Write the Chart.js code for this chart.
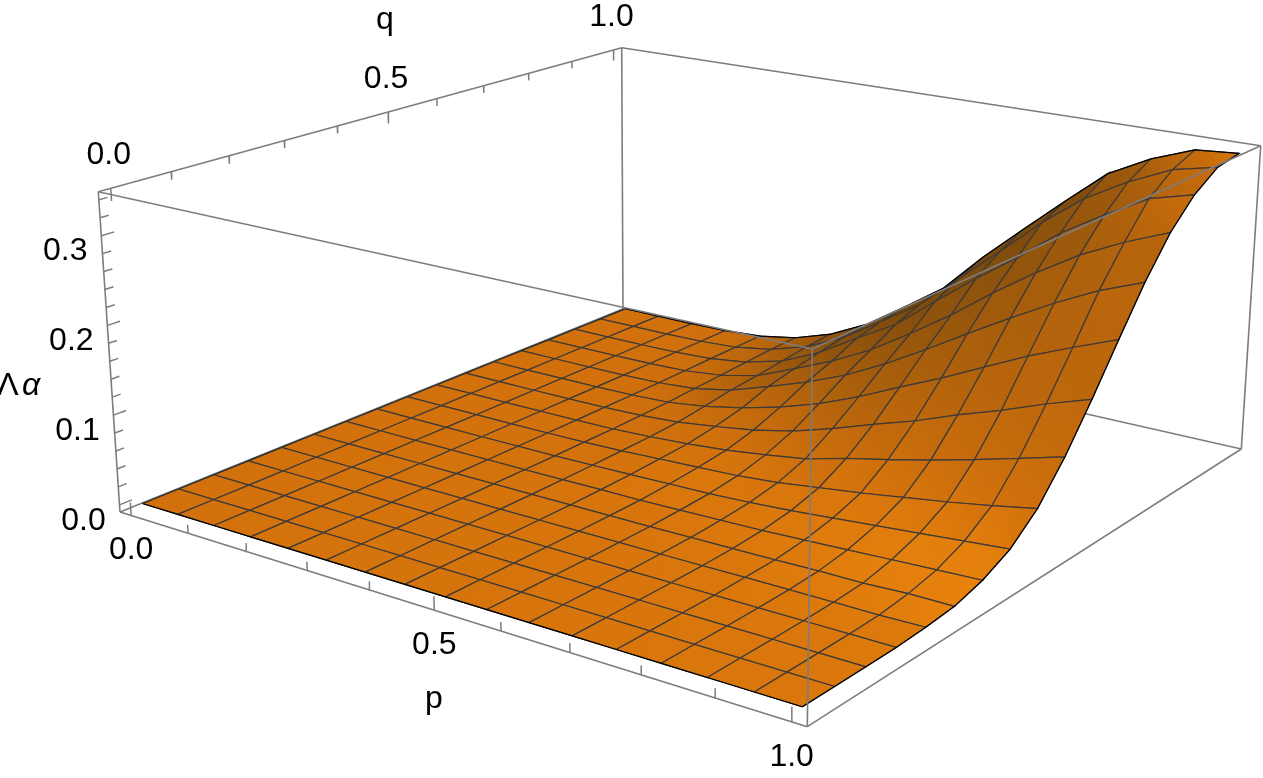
<!DOCTYPE html>
<html>
<head>
<meta charset="utf-8">
<title>Surface</title>
<script src="https://cdn.jsdelivr.net/npm/chart.js@4"></script>
<style>
  html, body { margin: 0; background: #fff; overflow: hidden; }
  canvas { display: block; }
</style>
</head>
<body>
<canvas id="surface" width="1263" height="778"></canvas>
<script>
// mesh positions
const pGrid = [0, 0.0625, 0.125, 0.1875, 0.25, 0.3125, 0.375, 0.4375, 0.5, 0.5625, 0.625, 0.6875, 0.75, 0.8125, 0.875, 0.9375, 1];
const qGrid = [0, 0.0625, 0.125, 0.1875, 0.25, 0.3125, 0.375, 0.4375, 0.5, 0.5625, 0.625, 0.6875, 0.75, 0.8125, 0.875, 0.9375, 1];

// surface height, one row per p
const zRows = [
  [0, 0, 0, 0, 0, 0, 0, 0, 0, 0, 0, 0, 0, 0, 0, 0, 0],
  [0, 0, 0, 0, 0, 0, 0, 0, 0, 0, 0, 0, 0, 0, 0, 0, 0],
  [0, 0, 0, 0, 0, 0, 0, 0, 0, 0, 0, 0.0001, 0.0001, 0.0001, 0.0001, 0.0001, 0.0001],
  [0, 0, 0, 0, 0, 0, 0, 0, 0.0001, 0.0001, 0.0002, 0.0003, 0.0004, 0.0006, 0.0008, 0.0009, 0.001],
  [0, 0, 0, 0, 0, 0, 0.0001, 0.0002, 0.0003, 0.0005, 0.0008, 0.001, 0.0015, 0.002, 0.003, 0.0035, 0.004],
  [0, 0, 0, 0, 0, 0.0001, 0.0002, 0.0004, 0.0008, 0.001, 0.002, 0.003, 0.005, 0.007, 0.009, 0.011, 0.012],
  [0, 0, 0, 0, 0, 0.0001, 0.0005, 0.001, 0.002, 0.003, 0.005, 0.009, 0.014, 0.017, 0.021, 0.025, 0.027],
  [0, 0, 0, 0, 0.0001, 0.0002, 0.001, 0.002, 0.004, 0.006, 0.011, 0.018, 0.029, 0.036, 0.042, 0.047, 0.05],
  [0, 0, 0, 0, 0.0001, 0.0004, 0.001, 0.003, 0.006, 0.01, 0.018, 0.03, 0.045, 0.056, 0.07, 0.077, 0.082],
  [0, 0, 0, 0, 0.0002, 0.0006, 0.002, 0.004, 0.008, 0.016, 0.028, 0.045, 0.064, 0.08, 0.097, 0.108, 0.115],
  [0, 0, 0, 0, 0.0003, 0.001, 0.003, 0.006, 0.012, 0.023, 0.042, 0.064, 0.088, 0.11, 0.135, 0.15, 0.163],
  [0, 0, 0, 0.0001, 0.0005, 0.0015, 0.004, 0.009, 0.018, 0.035, 0.058, 0.086, 0.115, 0.142, 0.172, 0.192, 0.207],
  [0, 0, 0, 0.0001, 0.001, 0.002, 0.006, 0.013, 0.024, 0.045, 0.073, 0.107, 0.144, 0.178, 0.207, 0.236, 0.25],
  [0, 0, 0, 0.0002, 0.001, 0.003, 0.008, 0.017, 0.031, 0.056, 0.091, 0.13, 0.172, 0.211, 0.245, 0.274, 0.292],
  [0, 0, 0, 0.0002, 0.001, 0.003, 0.01, 0.021, 0.038, 0.068, 0.107, 0.153, 0.199, 0.241, 0.275, 0.302, 0.318],
  [0, 0, 0, 0.0003, 0.001, 0.005, 0.012, 0.025, 0.046, 0.081, 0.125, 0.173, 0.223, 0.265, 0.303, 0.325, 0.337],
  [0, 0, 0, 0.0003, 0.002, 0.005, 0.014, 0.029, 0.055, 0.094, 0.141, 0.192, 0.242, 0.285, 0.316, 0.336, 0.341]
];

// ticks
const pTicks = [0, 0.1, 0.2, 0.3, 0.4, 0.5, 0.6, 0.7, 0.8, 0.9, 1];
const qTicks = [0, 0.1, 0.2, 0.3, 0.4, 0.5, 0.6, 0.7, 0.8, 0.9, 1];
const zTicks = [0, 0.02, 0.04, 0.06, 0.08, 0.1, 0.12, 0.14, 0.16, 0.18, 0.2, 0.22, 0.24, 0.26, 0.28, 0.3, 0.32, 0.34];
const pTickLabels = ["0.0", "0.5", "1.0"];
const qTickLabels = ["0.0", "0.5", "1.0"];
const zTickLabels = ["0.0", "0.1", "0.2", "0.3"];

// plot range of the box
const pqMin = -0.02, pqMax = 1.02, zMin = -0.008, zMax = 0.349;

// box corners on the page: p0q0, p1q0, p1q1, p0q1
const floorCorners = [[120, 512], [807.3, 726.7], [1241.3, 449], [623, 309]];
const roofCorners = [[98.3, 191.7], [812.3, 349], [1260.7, 145.7], [621.7, 47.7]];

function quadMap(c) {
  const [[x0, y0], [x1, y1], [x2, y2], [x3, y3]] = c;
  const dx1 = x1 - x2, dx2 = x3 - x2, sx = x0 - x1 + x2 - x3;
  const dy1 = y1 - y2, dy2 = y3 - y2, sy = y0 - y1 + y2 - y3;
  const den = dx1 * dy2 - dx2 * dy1;
  const g = (sx * dy2 - dx2 * sy) / den, h = (dx1 * sy - sx * dy1) / den;
  const a = x1 - x0 + g * x1, b = x3 - x0 + h * x3;
  const d = y1 - y0 + g * y1, e = y3 - y0 + h * y3;
  return (u, v) => {
    const w = g * u + h * v + 1;
    return [(a * u + b * v + x0) / w, (d * u + e * v + y0) / w];
  };
}
const floorMap = quadMap(floorCorners);
const roofMap = quadMap(roofCorners);

function project(p, q, z) {
  const u = (p - pqMin) / (pqMax - pqMin);
  const v = (q - pqMin) / (pqMax - pqMin);
  const w = (z - zMin) / (zMax - zMin);
  const f = floorMap(u, v), r = roofMap(u, v);
  return { x: f[0] + (r[0] - f[0]) * w, y: f[1] + (r[1] - f[1]) * w };
}

// lighting, from the slope at a mesh vertex
function vertexColor(i, j) {
  const i0 = Math.max(i - 1, 0), i1 = Math.min(i + 1, 16);
  const j0 = Math.max(j - 1, 0), j1 = Math.min(j + 1, 16);
  const sp = (zRows[i1][j] - zRows[i0][j]) / (pGrid[i1] - pGrid[i0]);
  const sq = (zRows[i][j1] - zRows[i][j0]) / (qGrid[j1] - qGrid[j0]);
  const nx = -sp * 2.5, ny = -sq * 2.5, len = Math.hypot(nx, ny, 1);
  const dot = (nx * 0.45 + ny * -0.42 + 0.7) / len;
  const lit = (0.454 + 0.78 * dot) * (1 + 0.04 * pGrid[i]);
  const red = Math.max(Math.min(210 * lit, 232), 122);
  const green = red > 210 ? 113 + (red - 210) * 0.8 : 0.45 * red + 18.5;
  return `rgb(${red.toFixed(0)},${green.toFixed(0)},12)`;
}

const datasets = [];

function addLine(points, color, width) {
  datasets.push({ data: points, borderColor: color, borderWidth: width, pointRadius: 0, showLine: true, fill: false, tension: 0 });
}

const boxColor = "#7d7d7d";
function boxEdge(a, b) {
  addLine([project(a[0], a[1], a[2]), project(b[0], b[1], b[2])], boxColor, 1.6);
}

// back of the box
boxEdge([pqMin, pqMin, zMin], [pqMin, pqMin, zMax]);
boxEdge([pqMin, pqMin, zMax], [pqMin, pqMax, zMax]);
boxEdge([pqMin, pqMax, zMax], [pqMin, pqMax, zMin]);
boxEdge([pqMin, pqMax, zMax], [pqMax, pqMax, zMax]);
boxEdge([pqMin, pqMin, zMin], [pqMin, pqMax, zMin]);
boxEdge([pqMin, pqMax, zMin], [pqMax, pqMax, zMin]);
boxEdge([pqMax, pqMax, zMin], [pqMax, pqMax, zMax]);

// ticks
pTicks.forEach(t => {
  const len = (t === 0 || t === 0.5 || t === 1) ? 0.04 : 0.026;
  const dw = len * (zMax - zMin);
  addLine([project(t, pqMin, zMin), project(t, pqMin, zMin + dw)], boxColor, 1.5);
});
qTicks.forEach(t => {
  const len = (t === 0 || t === 0.5 || t === 1) ? 0.04 : 0.026;
  const dw = len * (zMax - zMin);
  addLine([project(pqMin, t, zMax), project(pqMin, t, zMax - dw)], boxColor, 1.5);
});
zTicks.forEach((t, n) => {
  const dv = (n % 5 === 0) ? 0.021 : 0.014;
  addLine([project(pqMin, pqMin, t), project(pqMin, pqMin + dv, t)], boxColor, 1.5);
});

// surface, back to front
for (let j = 15; j >= 0; j--) {
  for (let i = 0; i < 16; i++) {
    const corners = [[i, j], [i + 1, j], [i + 1, j + 1], [i, j + 1], [i, j]];
    datasets.push({
      data: corners.map(c => project(pGrid[c[0]], qGrid[c[1]], zRows[c[0]][c[1]])),
      borderColor: "#3f3a36",
      borderWidth: 1.2,
      pointRadius: 0,
      showLine: true,
      fill: false,
      tension: 0,
      shade: [vertexColor(i, j), vertexColor(i + 1, j), vertexColor(i + 1, j + 1), vertexColor(i, j + 1)]
    });
  }
}

// surface outline
addLine(pGrid.map((p, i) => project(p, 1, zRows[i][16])), "#000", 1.2);
addLine(pGrid.map((p, i) => project(p, 0, zRows[i][0])), "#000", 1.2);
addLine(qGrid.map((q, j) => project(1, q, zRows[16][j])), "#000", 1.2);
addLine(qGrid.map((q, j) => project(0, q, zRows[0][j])), "#333", 1.2);

// front of the box
boxEdge([pqMin, pqMin, zMax], [pqMax, pqMin, zMax]);
boxEdge([pqMax, pqMin, zMax], [pqMax, pqMax, zMax]);
boxEdge([pqMax, pqMin, zMin], [pqMax, pqMin, zMax]);
boxEdge([pqMin, pqMin, zMin], [pqMax, pqMin, zMin]);
boxEdge([pqMax, pqMin, zMin], [pqMax, pqMax, zMin]);

const quadFill = {
  id: "quadFill",
  beforeDatasetDraw(chart, args) {
    const ds = chart.data.datasets[args.index];
    if (!ds.shade) return;
    const pts = args.meta.data, ctx = chart.ctx;
    const grad = ctx.createLinearGradient(pts[0].x, pts[0].y, pts[2].x, pts[2].y);
    grad.addColorStop(0, ds.shade[0]);
    grad.addColorStop(1, ds.shade[2]);
    ctx.save();
    ctx.beginPath();
    ctx.moveTo(pts[0].x, pts[0].y);
    for (let n = 1; n < 4; n++) ctx.lineTo(pts[n].x, pts[n].y);
    ctx.closePath();
    ctx.fillStyle = grad;
    ctx.fill();
    ctx.restore();
  }
};

const boxLabels = {
  id: "boxLabels",
  afterDatasetsDraw(chart) {
    const ctx = chart.ctx;
    const put = (text, x, y, font) => {
      ctx.font = font || "32px 'Liberation Sans'";
      ctx.fillText(text, x, y);
    };
    ctx.save();
    ctx.fillStyle = "#000";
    ctx.textAlign = "center";
    ctx.textBaseline = "middle";
    [0, 0.5, 1].forEach((t, n) => {
      const a = project(t, pqMin, zMin);
      put(pTickLabels[n], a.x, a.y + 35);
      const b = project(pqMin, t, zMax);
      put(qTickLabels[n], b.x - 2, b.y - 33);
    });
    [0, 0.1, 0.2, 0.3].forEach((t, n) => {
      const c = project(pqMin, pqMin, t);
      put(zTickLabels[n], c.x - 36, c.y + 16);
    });
    put("p", 434, 699);
    put("q", 385, 20);
    put("Λ", 8, 386);
    put("α", 31, 386, "italic 32px 'Liberation Sans'");
    ctx.restore();
  }
};

new Chart(document.getElementById("surface"), {
  type: "scatter",
  data: { datasets: datasets.reverse() },
  options: {
    responsive: false,
    animation: false,
    events: [],
    layout: { padding: 0 },
    plugins: { legend: { display: false }, tooltip: { enabled: false } },
    scales: {
      x: { type: "linear", display: false, min: 0, max: 1263 },
      y: { type: "linear", display: false, min: 0, max: 778, reverse: true }
    }
  },
  plugins: [quadFill, boxLabels]
});
</script>
</body>
</html>
